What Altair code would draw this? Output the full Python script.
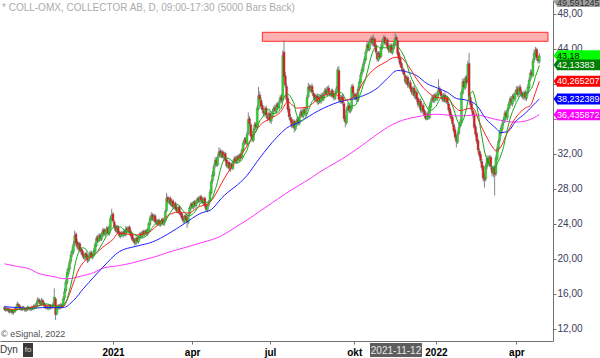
import altair as alt
import pandas as pd

# ---------------- daily candles ----------------
OPEN = [
    14.4, 14.3, 14.1, 14.3, 14.1, 13.9, 14.1, 13.8, 13.9, 14.1,
    14.4, 14.8, 14.6, 14.4, 14.2, 14.4, 14.3, 14.1, 14.2, 14.4,
    14.3, 14.2, 14.4, 14.3, 14.6, 14.5, 14.9, 15.3, 15.1, 14.8,
    15.2, 14.9, 14.6, 14.4, 14.5, 14.3, 14.6, 14.4, 14.5, 14.8,
    15.4, 13.7, 14.3, 14.6, 14.4, 14.7, 14.6, 15.5, 16.3, 17.2,
    18.3, 18.8, 19.7, 20.5, 20.8, 21.7, 22.8, 21.9, 21.2, 21.7,
    21.1, 20.9, 20.5, 20.0, 20.6, 20.3, 19.8, 20.2, 20.7, 20.1,
    20.4, 20.8, 21.5, 22.4, 22.0, 22.7, 22.2, 22.6, 23.3, 22.7,
    23.0, 23.5, 22.8, 23.5, 24.5, 25.1, 24.2, 23.7, 23.1, 23.6,
    23.0, 22.5, 23.0, 22.6, 23.1, 22.7, 23.5, 23.1, 23.6, 23.1,
    22.7, 22.3, 22.1, 21.7, 22.4, 21.9, 22.3, 22.9, 22.5, 23.1,
    22.7, 23.2, 22.8, 23.2, 23.9, 24.5, 25.0, 24.4, 24.9, 24.3,
    23.9, 24.4, 23.8, 24.0, 24.5, 23.9, 24.3, 25.5, 27.0, 26.4,
    26.9, 26.1, 26.6, 25.8, 26.3, 25.8, 25.3, 25.9, 25.3, 25.1,
    24.7, 24.2, 24.9, 24.6, 24.1, 25.1, 25.7, 26.3, 25.8, 26.5,
    26.0, 26.4, 26.9, 26.5, 27.1, 26.8, 26.3, 26.9, 26.1, 25.5,
    26.1, 26.6, 27.5, 28.9, 29.5, 30.6, 31.3, 30.7, 31.7, 32.3,
    31.7, 32.2, 31.5, 32.0, 31.3, 30.5, 31.0, 30.2, 30.8, 30.3,
    31.1, 31.5, 31.0, 31.7, 31.2, 31.9, 31.6, 32.3, 33.3, 33.7,
    33.1, 34.3, 36.0, 35.3, 34.1, 33.5, 34.7, 35.4, 35.1, 37.1,
    38.7, 38.1, 37.5, 36.9, 36.5, 37.2, 36.3, 36.1, 36.6, 35.7,
    36.2, 36.9, 37.3, 36.8, 37.6, 37.2, 37.9, 38.5, 38.2, 43.6,
    40.9, 39.7, 38.3, 37.1, 36.1, 35.9, 35.1, 35.7, 34.8, 35.3,
    35.9, 35.4, 36.3, 36.8, 36.2, 37.0, 36.5, 37.1, 38.5, 39.7,
    39.2, 39.7, 38.9, 38.7, 38.1, 38.6, 37.8, 38.4, 37.9, 38.7,
    38.2, 38.8, 39.3, 38.7, 39.5, 38.9, 38.6, 39.2, 38.7, 38.3,
    39.0, 39.5, 41.5, 38.4, 37.9, 38.5, 37.7, 36.1, 35.5, 37.1,
    37.5, 36.8, 37.1, 39.7, 38.8, 38.3, 38.7, 38.1, 39.5, 40.1,
    41.1, 41.5, 42.3, 42.7, 43.7, 44.5, 43.9, 44.9, 45.2, 44.5,
    45.1, 44.4, 43.5, 42.7, 43.5, 43.1, 44.1, 44.9, 45.3, 44.5,
    45.0, 44.2, 43.7, 44.4, 43.5, 44.0, 44.5, 45.3, 44.9, 43.5,
    42.9, 42.3, 41.7, 41.5, 40.9, 40.1, 40.7, 39.7, 40.1, 39.5,
    38.9, 39.5, 38.5, 39.0, 38.3, 37.5, 38.0, 36.9, 37.5, 36.9,
    36.5, 35.9, 36.6, 36.1, 37.3, 38.0, 38.5, 38.0, 38.7, 38.2,
    38.7, 39.4, 39.1, 38.5, 38.1, 38.7, 37.9, 38.4, 37.7, 37.1,
    36.5, 36.1, 35.3, 34.7, 34.0, 33.3, 34.3, 35.1, 35.7, 38.9,
    40.3, 39.5, 40.7, 40.3, 42.3, 38.4, 37.7, 36.9, 36.5, 35.1,
    34.3, 33.5, 32.3, 31.9, 31.1, 30.5, 29.4, 29.1, 30.5, 31.5,
    30.8, 31.6, 30.4, 29.7, 30.4, 29.7, 31.4, 32.5, 33.5, 34.3,
    34.8, 35.5, 35.8, 36.7, 36.1, 37.1, 37.5, 38.3, 37.7, 38.6,
    38.2, 39.0, 39.4, 38.7, 39.6, 39.0, 38.8, 38.4, 39.0, 38.3,
    38.9, 39.5, 40.5, 41.3, 40.9, 42.7, 43.4, 43.9, 42.8, 42.5,
]
HIGH = [
    14.6, 14.5, 14.5, 14.4, 14.3, 14.3, 14.2, 14.1, 14.4, 14.6,
    15.1, 14.9, 14.7, 14.5, 14.6, 14.6, 14.4, 14.4, 14.6, 14.6,
    14.5, 14.6, 14.6, 14.8, 14.8, 15.1, 15.6, 15.5, 15.3, 15.5,
    15.4, 15.1, 14.8, 14.7, 14.7, 14.8, 14.8, 14.7, 15.0, 16.6,
    15.6, 14.5, 14.8, 14.8, 14.9, 14.9, 15.7, 16.6, 17.6, 18.8,
    19.3, 19.9, 20.8, 21.3, 22.0, 23.2, 23.0, 22.2, 21.9, 21.9,
    21.3, 21.1, 20.7, 20.7, 20.8, 20.5, 20.5, 20.9, 20.9, 20.6,
    21.2, 21.9, 22.6, 22.7, 22.9, 22.9, 23.0, 23.5, 23.5, 23.4,
    23.7, 23.7, 23.9, 24.9, 25.7, 25.3, 24.4, 23.9, 23.8, 23.8,
    23.2, 23.1, 23.2, 23.2, 23.3, 23.7, 23.7, 23.7, 23.8, 23.3,
    22.9, 22.5, 22.3, 22.5, 22.6, 22.6, 23.0, 23.1, 23.2, 23.3,
    23.3, 23.4, 23.5, 24.2, 24.9, 25.3, 25.2, 25.1, 25.1, 24.5,
    24.5, 24.6, 24.3, 24.6, 24.7, 24.4, 25.7, 27.5, 27.2, 27.0,
    27.1, 26.7, 26.8, 26.4, 26.5, 26.0, 26.0, 26.1, 25.5, 25.3,
    24.9, 25.0, 25.1, 24.8, 25.2, 26.0, 26.4, 26.5, 26.6, 26.7,
    26.7, 27.0, 27.1, 27.2, 27.3, 27.0, 27.0, 27.1, 26.3, 26.2,
    26.7, 27.9, 29.1, 30.0, 30.8, 31.6, 31.6, 31.9, 32.7, 32.6,
    32.4, 32.4, 32.2, 32.2, 31.5, 31.2, 31.2, 30.9, 31.0, 31.3,
    31.7, 31.7, 31.8, 31.9, 32.0, 32.1, 32.6, 33.5, 33.9, 33.9,
    34.5, 36.7, 36.3, 35.5, 34.3, 34.9, 35.6, 35.6, 37.5, 39.6,
    39.1, 38.4, 37.8, 37.2, 37.4, 37.5, 36.6, 36.8, 36.9, 36.6,
    37.1, 37.5, 37.6, 37.8, 37.9, 38.1, 38.7, 38.8, 43.8, 45.0,
    41.3, 40.0, 38.6, 37.4, 36.5, 36.2, 35.9, 35.9, 35.7, 36.1,
    36.2, 36.5, 37.0, 37.1, 37.2, 37.3, 37.3, 38.7, 40.1, 39.9,
    39.9, 40.0, 39.2, 38.9, 38.8, 38.9, 38.6, 38.7, 38.9, 39.0,
    39.0, 39.5, 39.6, 39.7, 39.8, 39.2, 39.4, 39.4, 38.9, 39.2,
    39.7, 41.9, 42.0, 38.7, 38.7, 38.8, 37.9, 36.4, 37.3, 37.8,
    37.8, 37.5, 39.9, 40.0, 39.0, 38.9, 38.9, 39.7, 40.5, 41.3,
    41.9, 42.5, 43.1, 43.9, 44.8, 44.8, 45.1, 45.4, 45.5, 45.6,
    45.3, 44.6, 43.7, 43.7, 43.7, 44.5, 45.1, 45.5, 45.5, 45.2,
    45.2, 44.5, 44.6, 44.6, 44.2, 44.9, 45.9, 45.6, 45.1, 43.7,
    43.2, 42.5, 42.0, 41.7, 41.1, 40.9, 40.9, 40.3, 40.4, 39.7,
    39.7, 39.8, 39.2, 39.3, 38.5, 38.2, 38.3, 37.7, 37.8, 37.1,
    36.8, 36.8, 36.9, 37.7, 38.2, 38.7, 38.8, 38.9, 39.0, 39.1,
    40.5, 39.7, 39.3, 38.8, 38.9, 39.0, 38.6, 38.6, 37.9, 37.3,
    36.8, 36.3, 35.5, 35.0, 34.2, 34.5, 35.3, 35.9, 39.3, 40.6,
    40.6, 40.9, 41.0, 42.6, 43.5, 38.7, 38.0, 37.2, 36.7, 35.4,
    34.6, 33.7, 32.6, 32.2, 31.4, 30.7, 29.8, 30.9, 31.8, 31.8,
    31.8, 31.8, 30.6, 30.6, 30.7, 31.8, 32.9, 33.7, 34.7, 35.2,
    35.7, 36.2, 36.9, 37.0, 37.3, 37.9, 38.5, 38.6, 38.8, 38.9,
    39.2, 39.7, 39.7, 39.8, 39.9, 39.3, 39.1, 39.2, 39.3, 39.1,
    39.9, 40.7, 41.6, 41.6, 42.9, 43.9, 44.2, 44.1, 43.2, 43.5,
]
LOW = [
    14.0, 13.9, 14.0, 13.8, 13.7, 13.8, 13.6, 13.6, 13.8, 14.0,
    14.2, 14.4, 14.1, 14.0, 14.0, 14.1, 13.9, 13.9, 14.0, 14.1,
    14.0, 14.0, 14.1, 14.1, 14.3, 14.3, 14.7, 14.9, 14.6, 14.6,
    14.7, 14.4, 14.2, 14.2, 14.1, 14.1, 14.2, 14.2, 14.3, 14.6,
    13.0, 13.5, 14.1, 14.2, 14.2, 14.3, 14.4, 15.2, 16.0, 17.0,
    18.0, 18.5, 19.4, 20.2, 20.5, 21.4, 21.5, 21.0, 20.9, 20.7,
    20.5, 20.2, 19.9, 19.8, 20.0, 19.5, 19.6, 20.0, 20.0, 19.9,
    20.2, 20.6, 21.3, 21.8, 21.8, 22.0, 22.0, 22.4, 22.6, 22.5,
    22.8, 22.7, 22.6, 23.3, 24.3, 24.1, 23.4, 23.0, 22.9, 22.7,
    22.4, 22.3, 22.5, 22.4, 22.6, 22.5, 23.0, 22.9, 22.8, 22.4,
    22.0, 21.8, 21.5, 21.5, 21.8, 21.7, 22.1, 22.4, 22.3, 22.6,
    22.5, 22.7, 22.6, 23.0, 23.7, 24.3, 24.3, 24.2, 24.0, 23.8,
    23.7, 23.7, 23.6, 23.8, 23.8, 23.7, 24.1, 25.3, 26.3, 26.2,
    26.0, 25.9, 25.7, 25.6, 25.5, 25.2, 25.1, 25.0, 24.8, 24.4,
    24.0, 24.0, 24.3, 23.5, 23.9, 24.9, 25.5, 25.7, 25.6, 25.9,
    25.8, 26.2, 26.4, 26.3, 26.5, 26.2, 26.1, 25.8, 25.4, 25.3,
    25.9, 26.4, 27.3, 28.6, 29.3, 30.4, 30.5, 30.5, 31.5, 31.5,
    31.5, 31.4, 31.3, 31.0, 30.4, 30.3, 30.0, 29.9, 30.2, 30.1,
    30.9, 30.9, 30.8, 31.1, 31.0, 31.3, 31.4, 32.1, 33.0, 33.0,
    32.9, 34.1, 35.1, 33.8, 33.3, 33.3, 34.5, 34.8, 34.9, 36.9,
    37.9, 37.1, 36.7, 36.3, 36.2, 36.1, 35.7, 35.8, 35.5, 35.4,
    36.0, 36.7, 36.6, 36.6, 37.0, 37.0, 37.7, 37.8, 38.0, 40.2,
    39.5, 37.9, 36.7, 35.9, 35.5, 34.9, 34.9, 34.4, 34.6, 35.1,
    35.2, 35.2, 36.1, 36.1, 36.0, 36.4, 36.3, 36.9, 38.3, 39.0,
    39.0, 38.8, 38.3, 37.9, 37.9, 37.6, 37.6, 37.7, 37.7, 38.0,
    38.0, 38.6, 38.6, 38.5, 38.8, 38.5, 38.4, 38.4, 38.1, 38.1,
    38.8, 39.3, 37.9, 37.7, 37.7, 37.5, 35.7, 35.0, 35.3, 36.9,
    36.6, 36.6, 36.9, 38.6, 38.1, 38.1, 37.9, 37.9, 39.2, 39.9,
    40.8, 41.3, 42.0, 42.5, 43.5, 43.7, 43.7, 44.6, 44.3, 44.2,
    44.1, 43.4, 42.5, 42.5, 42.8, 42.9, 43.9, 44.7, 44.4, 44.3,
    43.9, 43.5, 43.5, 43.4, 43.3, 43.8, 44.3, 44.7, 43.1, 42.4,
    41.9, 41.5, 41.1, 40.8, 39.9, 39.9, 39.5, 39.5, 39.1, 38.7,
    38.6, 38.3, 38.2, 37.9, 37.3, 37.2, 36.7, 36.6, 36.5, 36.1,
    35.8, 35.8, 35.9, 35.9, 37.1, 37.8, 37.8, 37.8, 38.0, 38.0,
    38.5, 38.8, 38.4, 37.9, 37.9, 37.8, 37.7, 37.5, 36.7, 36.1,
    35.7, 35.1, 34.3, 33.6, 32.7, 33.1, 34.1, 34.9, 35.5, 38.7,
    39.3, 39.3, 39.8, 40.1, 38.2, 37.3, 36.7, 36.1, 34.7, 33.9,
    33.1, 32.1, 31.5, 30.9, 30.1, 28.8, 28.1, 28.8, 30.2, 30.6,
    30.5, 30.2, 29.4, 29.3, 27.2, 29.4, 31.2, 32.2, 33.2, 34.0,
    34.5, 35.2, 35.5, 35.9, 35.8, 36.8, 37.2, 37.5, 37.4, 38.0,
    37.9, 38.7, 38.5, 38.4, 38.8, 38.4, 38.2, 38.1, 38.1, 38.0,
    38.6, 39.3, 40.3, 40.7, 40.7, 42.4, 43.1, 42.6, 42.3, 42.3,
]
CLOSE = [
    14.2, 14.1, 14.3, 14.0, 13.9, 14.1, 13.8, 13.9, 14.2, 14.4,
    14.8, 14.6, 14.3, 14.2, 14.4, 14.3, 14.1, 14.2, 14.4, 14.3,
    14.2, 14.4, 14.3, 14.6, 14.5, 14.9, 15.3, 15.1, 14.8, 15.2,
    14.9, 14.6, 14.4, 14.5, 14.3, 14.6, 14.4, 14.5, 14.8, 15.6,
    13.6, 14.3, 14.6, 14.4, 14.7, 14.5, 15.4, 16.2, 17.3, 18.4,
    18.9, 19.6, 20.4, 20.9, 21.6, 22.6, 21.8, 21.3, 21.6, 21.0,
    20.8, 20.4, 20.1, 20.5, 20.2, 19.8, 20.3, 20.6, 20.2, 20.4,
    20.9, 21.6, 22.3, 22.0, 22.6, 22.3, 22.7, 23.2, 22.8, 23.1,
    23.4, 22.9, 23.6, 24.6, 25.0, 24.3, 23.6, 23.2, 23.5, 22.9,
    22.6, 22.9, 22.7, 23.0, 22.8, 23.4, 23.2, 23.5, 23.0, 22.6,
    22.2, 22.0, 21.8, 22.3, 22.0, 22.4, 22.8, 22.6, 23.0, 22.8,
    23.1, 22.9, 23.3, 24.0, 24.6, 24.9, 24.5, 24.8, 24.2, 24.0,
    24.3, 23.9, 24.1, 24.4, 24.0, 24.2, 25.4, 26.9, 26.5, 26.8,
    26.2, 26.5, 25.9, 26.2, 25.7, 25.4, 25.8, 25.2, 25.0, 24.6,
    24.3, 24.8, 24.5, 24.2, 25.0, 25.8, 26.2, 25.9, 26.4, 26.1,
    26.5, 26.8, 26.6, 27.0, 26.7, 26.4, 26.8, 26.0, 25.6, 26.0,
    26.5, 27.6, 28.8, 29.6, 30.5, 31.2, 30.8, 31.6, 32.2, 31.8,
    32.1, 31.6, 31.9, 31.2, 30.6, 30.9, 30.3, 30.7, 30.4, 31.0,
    31.4, 31.1, 31.6, 31.3, 31.8, 31.5, 32.4, 33.2, 33.6, 33.2,
    34.2, 35.9, 35.4, 34.0, 33.6, 34.6, 35.3, 35.0, 37.2, 38.6,
    38.2, 37.4, 37.0, 36.6, 37.1, 36.4, 36.0, 36.5, 35.8, 36.3,
    36.8, 37.2, 36.9, 37.5, 37.3, 37.8, 38.4, 38.1, 43.2, 40.8,
    39.8, 38.2, 37.0, 36.2, 35.8, 35.2, 35.6, 34.9, 35.4, 35.8,
    35.5, 36.2, 36.7, 36.3, 36.9, 36.6, 37.0, 38.4, 39.6, 39.3,
    39.6, 39.0, 38.6, 38.2, 38.5, 37.9, 38.3, 38.0, 38.6, 38.3,
    38.7, 39.2, 38.8, 39.4, 39.0, 38.7, 39.1, 38.6, 38.4, 38.9,
    39.4, 41.6, 38.2, 38.0, 38.4, 37.8, 36.0, 35.6, 37.0, 37.4,
    36.9, 37.2, 39.6, 38.9, 38.4, 38.6, 38.2, 39.4, 40.2, 41.0,
    41.6, 42.2, 42.8, 43.6, 44.4, 44.0, 44.8, 45.1, 44.6, 45.0,
    44.3, 43.6, 42.8, 43.4, 43.0, 44.2, 44.8, 45.2, 44.6, 44.9,
    44.1, 43.8, 44.3, 43.6, 43.9, 44.6, 45.2, 45.0, 43.4, 42.8,
    42.2, 41.8, 41.4, 41.0, 40.2, 40.6, 39.8, 40.0, 39.4, 39.0,
    39.4, 38.6, 38.9, 38.2, 37.6, 37.9, 37.0, 37.4, 36.8, 36.4,
    36.0, 36.5, 36.2, 37.4, 37.9, 38.4, 38.1, 38.6, 38.3, 38.8,
    39.3, 39.0, 38.6, 38.2, 38.6, 38.0, 38.3, 37.8, 37.0, 36.4,
    36.0, 35.4, 34.6, 33.9, 33.4, 34.2, 35.0, 35.6, 39.0, 40.2,
    39.6, 40.6, 40.1, 42.2, 38.5, 37.6, 37.0, 36.4, 35.0, 34.2,
    33.4, 32.4, 31.8, 31.2, 30.4, 29.2, 29.0, 30.6, 31.4, 30.9,
    31.5, 30.5, 29.8, 30.3, 29.6, 31.5, 32.6, 33.4, 34.4, 34.9,
    35.4, 35.9, 36.6, 36.2, 37.0, 37.6, 38.2, 37.8, 38.5, 38.3,
    38.9, 39.3, 38.8, 39.5, 39.1, 38.7, 38.5, 38.9, 38.4, 38.8,
    39.6, 40.4, 41.2, 41.0, 42.6, 43.5, 43.8, 42.9, 42.6, 43.18,
]

# ---------------- moving averages (bar index, value) ----------------
RED_IDX = [0, 10, 20, 30, 40, 46, 50, 54, 58, 62, 70, 77, 85, 89, 103, 113, 121, 128, 136, 144,
           152, 160, 166, 170, 180, 187, 195, 200, 208, 216, 222, 229, 237, 246, 257, 267, 275,
           283, 290, 298, 306, 310, 316, 323, 331, 339, 347, 353, 357, 362, 367, 372, 377, 383,
           385, 389, 393, 400, 408, 412, 416, 419]
RED_VAL = [14.2, 14.2, 14.4, 14.7, 14.6, 14.5, 15.6, 17.2, 18.7, 19.6, 20.4, 21.3, 22.2, 22.9, 22.7,
           23.0, 24.0, 24.9, 25.3, 25.2, 25.9, 26.3, 27.5, 28.6, 30.9, 32.2, 34.1, 35.2, 36.0, 36.7,
           37.9, 37.2, 37.3, 38.3, 38.9, 38.1, 38.7, 40.6, 41.7, 42.4, 43.0, 43.0, 42.1, 40.5, 39.1,
           38.4, 38.3, 37.3, 36.9, 37.1, 37.2, 35.6, 34.1, 32.6, 32.3, 32.8, 34.1, 36.0, 37.2, 37.5,
           39.0, 40.265207]
BLUE_IDX = [0, 10, 20, 30, 40, 46, 54, 62, 70, 77, 90, 103, 116, 128, 141, 154, 162, 170, 190,
            200, 213, 221, 231, 246, 262, 277, 293, 300, 308, 316, 323, 331, 339, 347, 354, 362,
            370, 377, 385, 389, 395, 400, 408, 416, 419]
BLUE_VAL = [14.5, 14.4, 14.3, 14.4, 14.4, 14.4, 15.2, 16.6, 17.9, 19.0, 20.8, 21.4, 21.9, 22.8, 24.0,
            25.2, 25.6, 26.9, 29.5, 31.5, 33.8, 34.9, 35.6, 36.9, 37.9, 38.4, 39.6, 40.6, 41.5, 41.3,
            40.9, 40.0, 39.5, 39.0, 38.3, 38.1, 37.5, 36.0, 34.9, 34.4, 34.6, 35.6, 36.6, 37.8,
            38.232389]
MAG_IDX = [0, 10, 20, 25, 40, 46, 50, 60, 70, 77, 90, 100, 110, 120, 128, 140, 154, 170, 180,
           190, 200, 210, 220, 230, 240, 246, 260, 270, 277, 290, 300, 308, 323, 339, 354, 370,
           385, 400, 410, 419]
MAG_VAL = [19.4, 19.1, 18.8, 18.4, 17.9, 17.7, 17.7, 18.0, 18.4, 18.9, 19.2, 19.5, 19.9, 20.3, 20.7,
           21.2, 21.8, 22.6, 23.5, 24.4, 25.4, 26.4, 27.4, 28.3, 29.2, 29.8, 31.0, 31.9, 32.6, 34.0,
           35.0, 35.6, 36.2, 36.5, 36.3, 36.4, 35.9, 35.6, 35.8, 36.435872]

# ---------------- axes / labels ----------------
MONTH_IDX = [85, 147, 208, 274, 338, 401]
MONTH_LAB = ["2021", "apr", "jul", "okt", "2022", "apr"]
PRICE_TICKS = [12, 16, 20, 24, 28, 32, 36, 40, 44, 48]
HIDDEN_TICK_LABELS = [36, 40]   # covered by the value tags in the reference

TAG_NAME = ["last", "ma10", "ma20", "ma50", "ma200"]
TAG_VAL = [43.18, 42.13383, 40.265207, 38.232389, 36.435872]
TAG_TXT = ["43,18", "42,13383", "40,265207", "38,232389", "36,435872"]
TAG_BG = ["#00ff00", "#008000", "#ff0000", "#0000ff", "#ff00ff"]

ZONE_I = [202, 425.8]
ZONE_V = [44.83, 45.86]

X_DOM = [0.385, 425.8]
Y_DOM = [10.58, 49.55]
FONT = "Liberation Sans"

n = len(CLOSE)
assert len(OPEN) == len(HIGH) == len(LOW) == n
candles = pd.DataFrame({"i": list(range(n)), "o": OPEN, "h": HIGH, "l": LOW, "c": CLOSE})

xs = alt.Scale(domain=X_DOM, nice=False, zero=False)
ys = alt.Scale(domain=Y_DOM, nice=False, zero=False)

lab_expr = "".join(f"datum.value == {k} ? '{v}' : " for k, v in zip(MONTH_IDX, MONTH_LAB)) + "''"
hide_expr = " || ".join(f"datum.value == {v}" for v in HIDDEN_TICK_LABELS)
y_lab_expr = f"({hide_expr}) ? '' : replace(format(datum.value, '.2f'), '.', ',')"

x_axis = alt.Axis(values=MONTH_IDX, labelExpr=lab_expr, title=None, grid=False,
                  domainColor="#707070", tickColor="#707070", tickSize=3,
                  labelFont=FONT, labelFontSize=10, labelFontWeight="bold", labelColor="#000000",
                  labelPadding=3, labelOverlap=False, labelFlush=False)
y_axis = alt.Axis(orient="right", values=PRICE_TICKS, labelExpr=y_lab_expr,
                  title=None, grid=False, domainColor="#707070", tickColor="#707070", tickSize=3,
                  labelFont=FONT, labelFontSize=10, labelColor="#3b3b5b", labelPadding=1,
                  labelOverlap=False, labelFlush=False)


def X(f):
    return alt.X(f, scale=xs, axis=x_axis)


def Y(f):
    return alt.Y(f, scale=ys, axis=y_axis)


zone = alt.Chart(pd.DataFrame({"i0": [ZONE_I[0]], "i1": [ZONE_I[1]],
                               "lo": [ZONE_V[0]], "hi": [ZONE_V[1]]})).mark_rect(
    fill="#ffb0b0", stroke="#ff2a2a", strokeWidth=1).encode(
    x=X("i0:Q"), x2="i1:Q", y=Y("lo:Q"), y2="hi:Q")

wicks = alt.Chart(candles).mark_rule(color="#858585", strokeWidth=1).encode(
    x=X("i:Q"), y=Y("l:Q"), y2="h:Q")

bodies = alt.Chart(candles).mark_bar(width=2, stroke="#6a6a6a", strokeWidth=0.4).encode(
    x=X("i:Q"), y=Y("o:Q"), y2="c:Q",
    color=alt.condition("datum.c >= datum.o", alt.value("#1fe01f"), alt.value("#ee1111")))


def ma_line(idx, val, color):
    return alt.Chart(pd.DataFrame({"i": idx, "v": val})).mark_line(
        color=color, strokeWidth=1, interpolate="monotone").encode(x=X("i:Q"), y=Y("v:Q"))


mag = ma_line(MAG_IDX, MAG_VAL, "#ff33ff")
blue = ma_line(BLUE_IDX, BLUE_VAL, "#2020ff")
red = ma_line(RED_IDX, RED_VAL, "#ff2020")
green = alt.Chart(candles).transform_window(
    ma="mean(c)", frame=[-9, 0], sort=[alt.SortField("i", order="ascending")]
).mark_line(color="#16a816", strokeWidth=1).encode(x=X("i:Q"), y=Y("ma:Q"))

tags = pd.DataFrame({"name": TAG_NAME, "v": TAG_VAL, "txt": TAG_TXT})
tag_color = alt.Color("name:N", scale=alt.Scale(domain=TAG_NAME, range=TAG_BG), legend=None)
tag_base = alt.Chart(tags).transform_calculate(top="datum.v + 0.62", bot="datum.v - 0.62")
tag_rect = tag_base.mark_rect().encode(
    x=alt.value(557), x2=alt.value(600), y=Y("top:Q"), y2="bot:Q", color=tag_color)
tag_arrow = tag_base.mark_point(shape="M0,-1L0,1L-0.7,0Z", filled=True, size=121,
                                opacity=1, strokeWidth=0).encode(
    x=alt.value(557.5), y=Y("v:Q"), color=tag_color)
tag_text = tag_base.mark_text(align="left", baseline="middle", font=FONT, fontSize=9).encode(
    x=alt.value(557), y=Y("v:Q"), text="txt:N",
    color=alt.condition("datum.name == 'last'", alt.value("#000000"), alt.value("#ffffff")))

one = pd.DataFrame({"k": [0]})
top_rect = alt.Chart(one).mark_rect(fill="#a0a0a0").encode(
    x=alt.value(557), x2=alt.value(600), y=alt.value(-4), y2=alt.value(7))
top_arrow = alt.Chart(one).mark_point(shape="M0,-1L0,1L-0.7,0Z", filled=True, size=121,
                                      opacity=1, strokeWidth=0, color="#a0a0a0").encode(
    x=alt.value(557.5), y=alt.value(1.5))
top_text = alt.Chart(one).mark_text(text="49,591245", align="left", baseline="middle",
                                    font=FONT, fontSize=9, color="#303030").encode(
    x=alt.value(557), y=alt.value(3))

title_txt = alt.Chart(one).mark_text(
    text="* COLL-OMX, COLLECTOR AB, D, 09:00-17:30 (5000 Bars Back)",
    align="left", baseline="middle", font=FONT, fontSize=10, color="#ababab").encode(
    x=alt.value(2), y=alt.value(8))
copy_txt = alt.Chart(one).mark_text(
    text="© eSignal, 2022", align="left", baseline="middle", font=FONT, fontSize=9,
    color="#505050").encode(x=alt.value(1), y=alt.value(334))
dyn_txt = alt.Chart(one).mark_text(
    text="Dyn", align="left", baseline="middle", font=FONT, fontSize=10,
    color="#333333").encode(x=alt.value(0), y=alt.value(350))
icon_rect = alt.Chart(one).mark_rect(fill="#3a3a3a").encode(
    x=alt.value(23), x2=alt.value(33), y=alt.value(343), y2=alt.value(357))
icon_txt = alt.Chart(one).mark_text(
    text="fo", align="center", baseline="middle", font=FONT, fontSize=8,
    color="#cfcfcf").encode(x=alt.value(28), y=alt.value(350))
date_rect = alt.Chart(one).mark_rect(fill="#5e5e5e").encode(
    x=alt.value(370), x2=alt.value(422), y=alt.value(343), y2=alt.value(357))
date_txt = alt.Chart(one).mark_text(
    text="2021-11-12", align="center", baseline="middle", font=FONT, fontSize=10,
    color="#e8e8e8").encode(x=alt.value(396), y=alt.value(350.5))

chart = alt.layer(
    zone, wicks, bodies, mag, blue, red, green,
    tag_rect, tag_arrow, tag_text, top_rect, top_arrow, top_text,
    title_txt, copy_txt, dyn_txt, icon_rect, icon_txt, date_rect, date_txt,
).properties(
    width=553, height=341,
    padding={"left": 0, "top": 0, "right": 47, "bottom": 17},
    autosize=alt.AutoSizeParams(type="none"),
    background="white",
).configure_view(stroke=None)

chart.save("out.html", embed_options={"renderer": "svg", "actions": False})
